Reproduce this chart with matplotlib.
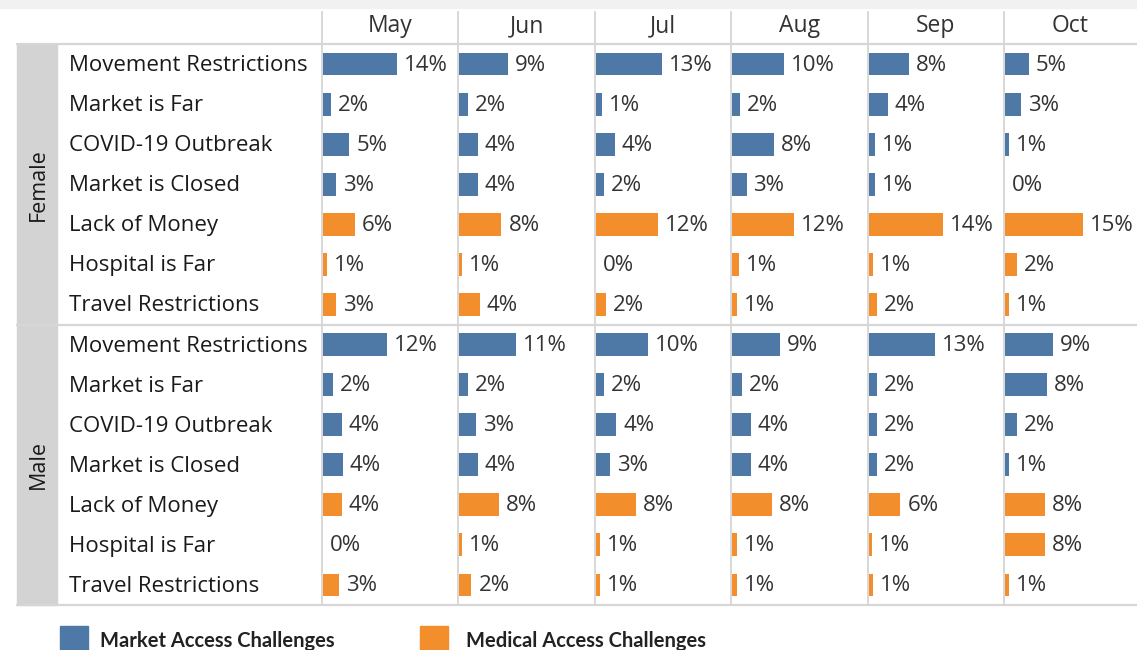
import numpy as np
import matplotlib
matplotlib.use("Agg")
import matplotlib.pyplot as plt
from matplotlib.patches import Rectangle
from matplotlib.lines import Line2D

# ── data ──────────────────────────────────────────────────────────────────────
months     = ["May", "Jun", "Jul", "Aug", "Sep", "Oct"]
challenges = ["Movement Restrictions", "Market is Far", "COVID-19 Outbreak",
              "Market is Closed", "Lack of Money", "Hospital is Far",
              "Travel Restrictions"]
kind       = ["market", "market", "market", "market",
              "medical", "medical", "medical"]
genders    = ["Female", "Male"]

# share of respondents (%), rows = challenges, cols = months
female = [
    [14.1, 9.4, 12.6, 9.9, 7.6, 4.6],
    [1.6, 1.7, 1.2, 1.6, 3.6, 3.1],
    [5.0, 3.6, 3.6, 8.0, 1.1, 0.8],
    [2.6, 3.6, 1.6, 2.8, 1.1, 0.0],
    [6.1, 8.1, 11.8, 11.8, 14.0, 14.8],
    [0.8, 0.6, 0.0, 1.3, 0.8, 2.3],
    [2.6, 4.0, 1.9, 0.9, 1.6, 0.8],
]
male = [
    [12.2, 10.8, 9.9, 9.2, 12.6, 9.1],
    [1.9, 1.7, 1.6, 2.0, 1.6, 8.0],
    [3.6, 3.2, 3.9, 3.6, 1.6, 2.3],
    [3.8, 3.6, 2.7, 3.6, 1.6, 0.8],
    [3.6, 7.7, 7.7, 7.7, 6.0, 7.6],
    [0.0, 0.6, 0.8, 0.9, 0.6, 7.6],
    [3.1, 2.4, 0.8, 0.9, 0.8, 0.8],
]

# ── style ─────────────────────────────────────────────────────────────────────
W, H      = 1137, 650
BLUE      = "#4e79a7"
ORANGE    = "#f28e2b"
GRID      = "#d6d6d6"
BAND      = "#d3d3d3"
TXT       = "#333333"
FONT      = ["Open Sans", "DejaVu Sans"]
PX_PER_PC = 5.3

col_edges = [322, 458, 595, 731, 868, 1004, 1137]
top, bottom = 44, 605
n_rows = len(challenges) * len(genders)
row_h  = (bottom - top) / n_rows

plt.rcParams["font.family"] = FONT

fig = plt.figure(figsize=(W / 100, H / 100), dpi=100)


def fx(x):
    return x / W


def fy(y):
    return 1 - y / H


values = np.vstack([np.array(female), np.array(male)])
colors = [BLUE if k == "market" else ORANGE for k in kind] * len(genders)
rows   = np.arange(n_rows)

for j, m in enumerate(months):
    x0, x1 = col_edges[j], col_edges[j + 1]
    ax = fig.add_axes([fx(x0), fy(bottom), fx(x1 - x0), (bottom - top) / H])
    ax.barh(rows, values[:, j], height=0.57, color=colors, zorder=2)
    for r, v in zip(rows, values[:, j]):
        ax.annotate(f"{v:.0f}%", xy=(v, r), xytext=(7, -1),
                    textcoords="offset pixels", va="center", ha="left",
                    fontsize=16, color=TXT, annotation_clip=False)
    ax.set_xlim(-0.15, (x1 - x0) / PX_PER_PC)
    ax.set_ylim(n_rows - 0.5, -0.5)
    ax.axis("off")
    fig.text(fx((x0 + x1) / 2), fy(26), m, ha="center", va="center",
             fontsize=16.5, color=TXT)

# row labels
for g, gender in enumerate(genders):
    for i, c in enumerate(challenges):
        yc = top + (g * len(challenges) + i + 0.5) * row_h
        fig.text(fx(69), fy(yc + 1.5), c, ha="left", va="center",
                 fontsize=16, color="#1a1a1a")
    y_a = top + g * len(challenges) * row_h
    y_b = y_a + len(challenges) * row_h
    fig.text(fx(38), fy((y_a + y_b) / 2), gender, rotation=90,
             ha="center", va="center", fontsize=15.5, color="#1a1a1a")

# background pieces
fig.patches.append(Rectangle((0, fy(8)), 1, 8 / H, transform=fig.transFigure,
                             color="#f1f1f1", zorder=0))
fig.patches.append(Rectangle((fx(17), fy(bottom)), fx(40), (bottom - top) / H,
                             transform=fig.transFigure, color=BAND, zorder=0))

# grid lines
for y in [top - 0.5, top + len(challenges) * row_h, bottom]:
    fig.lines.append(Line2D([fx(17), 1], [fy(y), fy(y)], color=GRID, lw=1.6,
                            transform=fig.transFigure, zorder=1))
for x in col_edges[:-1]:
    fig.lines.append(Line2D([fx(x), fx(x)], [fy(12), fy(bottom)], color=GRID,
                            lw=1.3, transform=fig.transFigure, zorder=1))

# legend
legend_items = [("Market Access Challenges", BLUE, 60, 100),
                ("Medical Access Challenges", ORANGE, 420, 466)]
for label, col, xs, xt in legend_items:
    fig.patches.append(Rectangle((fx(xs), 0), fx(28), 24 / H,
                                 transform=fig.transFigure, color=col))
    fig.text(fx(xt), fy(641), label, ha="left", va="center", fontsize=14.5,
             fontweight="bold", color="#222222", family=["Lato", "DejaVu Sans"])

fig.savefig("out.png", dpi=100)
